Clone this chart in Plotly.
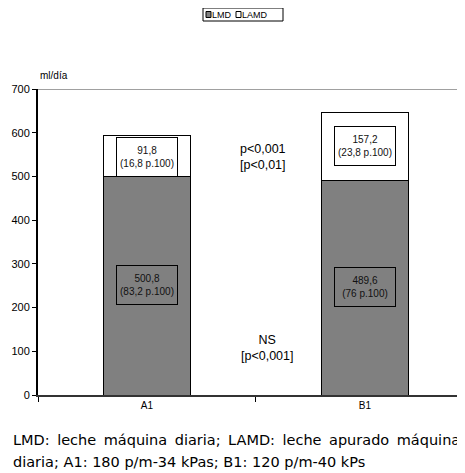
import plotly.graph_objects as go

categories = ["A1", "B1"]
lmd = [500.8, 489.6]
lamd = [91.8, 157.2]
lmd_labels = ["500,8<br>(83,2 p.100)", "489,6<br>(76 p.100)"]
lamd_labels = ["91,8<br>(16,8 p.100)", "157,2<br>(23,8 p.100)"]
lmd_label_y = [252, 247]
lamd_label_y = [545, 570]
sig_top = "p<0,001<br>[p<0,01]"
sig_bottom = "NS<br>[p<0,001]"
series_names = ["LMD", "LAMD"]
series_colors = ["#808080", "#ffffff"]

FONT = "Liberation Sans, Arial, sans-serif"
FOOT_FONT = "DejaVu Sans, sans-serif"
OFF = 8  # default page body margin
W, H = 465 - OFF, 473 - OFF
ML, MR, MT, MB = 38 - OFF, 0, 89 - OFF, 78
PW, PH = W - ML - MR, H - MT - MB


def px(xp):  # page x -> paper x
    return (xp - OFF - ML) / PW


def py(yp):  # page y -> paper y
    return (H - MB - (yp - OFF)) / PH


fig = go.Figure()
for name, vals, col in zip(series_names, [lmd, lamd], series_colors):
    fig.add_trace(go.Bar(x=categories, y=vals, name=name, width=0.4, showlegend=False,
                         marker=dict(color=col, line=dict(color="#000000", width=1))))

ann = []
for i, c in enumerate(categories):
    ann.append(dict(x=c, y=lmd_label_y[i], text=lmd_labels[i], showarrow=False,
                    font=dict(size=10, color="#111"), bordercolor="#000", borderwidth=1,
                    width=58, height=36, bgcolor="rgba(0,0,0,0)"))
    ann.append(dict(x=c, y=lamd_label_y[i], text=lamd_labels[i], showarrow=False,
                    font=dict(size=10, color="#111"), bordercolor="#000", borderwidth=1,
                    width=58, height=36, bgcolor="#ffffff"))
ann.append(dict(x=0.53, y=545, xref="x", text=sig_top, showarrow=False, align="left",
                font=dict(size=12.5, color="#000")))
ann.append(dict(x=0.55, y=108, xref="x", text=sig_bottom, showarrow=False, align="center",
                font=dict(size=12.5, color="#000")))
ann.append(dict(x=0, y=1.0, xref="paper", yref="paper", xanchor="left", yanchor="bottom",
                yshift=6, text="ml/día", showarrow=False, font=dict(size=10, color="#000")))

# footer lines
gap = "\u00a0\u2009"
line1_words = ["LMD:", "leche", "máquina", "diaria;", "LAMD:", "leche", "apurado", "máquina"]
line1 = gap.join(line1_words)
ann.append(dict(x=px(11), y=py(440), xref="paper", yref="paper", xanchor="left", yanchor="middle",
                showarrow=False, align="left", text=line1,
                font=dict(size=14.5, color="#000", family=FOOT_FONT)))
ann.append(dict(x=px(11), y=py(462), xref="paper", yref="paper", xanchor="left", yanchor="middle",
                showarrow=False, align="left",
                text="diaria; A1: 180 p/m-34 kPas; B1: 120 p/m-40 kPs",
                font=dict(size=14.5, color="#000", family=FOOT_FONT)))

# manual legend
shapes = [dict(type="line", xref="paper", yref="y", x0=0, x1=1, y0=700, y1=700,
               line=dict(color="#808080", width=1.5)),
          dict(type="rect", xref="paper", yref="paper", x0=px(203), x1=px(283),
               y0=py(21), y1=py(8), line=dict(color="#000", width=1), fillcolor="#fff")]
leg_x = [206, 236]
for name, col, lx in zip(series_names, series_colors, leg_x):
    shapes.append(dict(type="rect", xref="paper", yref="paper", x0=px(lx), x1=px(lx + 5),
                       y0=py(17.5), y1=py(11.5), line=dict(color="#000", width=1), fillcolor=col))
    ann.append(dict(x=px(lx + 6), y=py(14.5), xref="paper", yref="paper", xanchor="left",
                    yanchor="middle", showarrow=False, text=name, xshift=-2,
                    font=dict(size=9, color="#000")))

fig.update_layout(
    width=W, height=H,
    barmode="stack",
    plot_bgcolor="#ffffff", paper_bgcolor="#ffffff",
    margin=dict(l=ML, r=MR, t=MT, b=MB, pad=0, autoexpand=False),
    font=dict(family=FONT, size=10, color="#000"),
    showlegend=False,
    annotations=ann,
    shapes=shapes,
)
fig.update_xaxes(type="category", range=[-0.5, 1.459], tickson="boundaries", ticks="outside",
                 ticklen=5, tickcolor="#000", showline=True, linecolor="#333", linewidth=2,
                 showgrid=False, tickfont=dict(size=10))
fig.update_yaxes(range=[0, 700], dtick=100, ticks="outside", ticklen=4, tickcolor="#000",
                 showline=True, linecolor="#000", linewidth=2, showgrid=False,
                 tickfont=dict(size=11), zeroline=False)

fig.write_html("out.html")
